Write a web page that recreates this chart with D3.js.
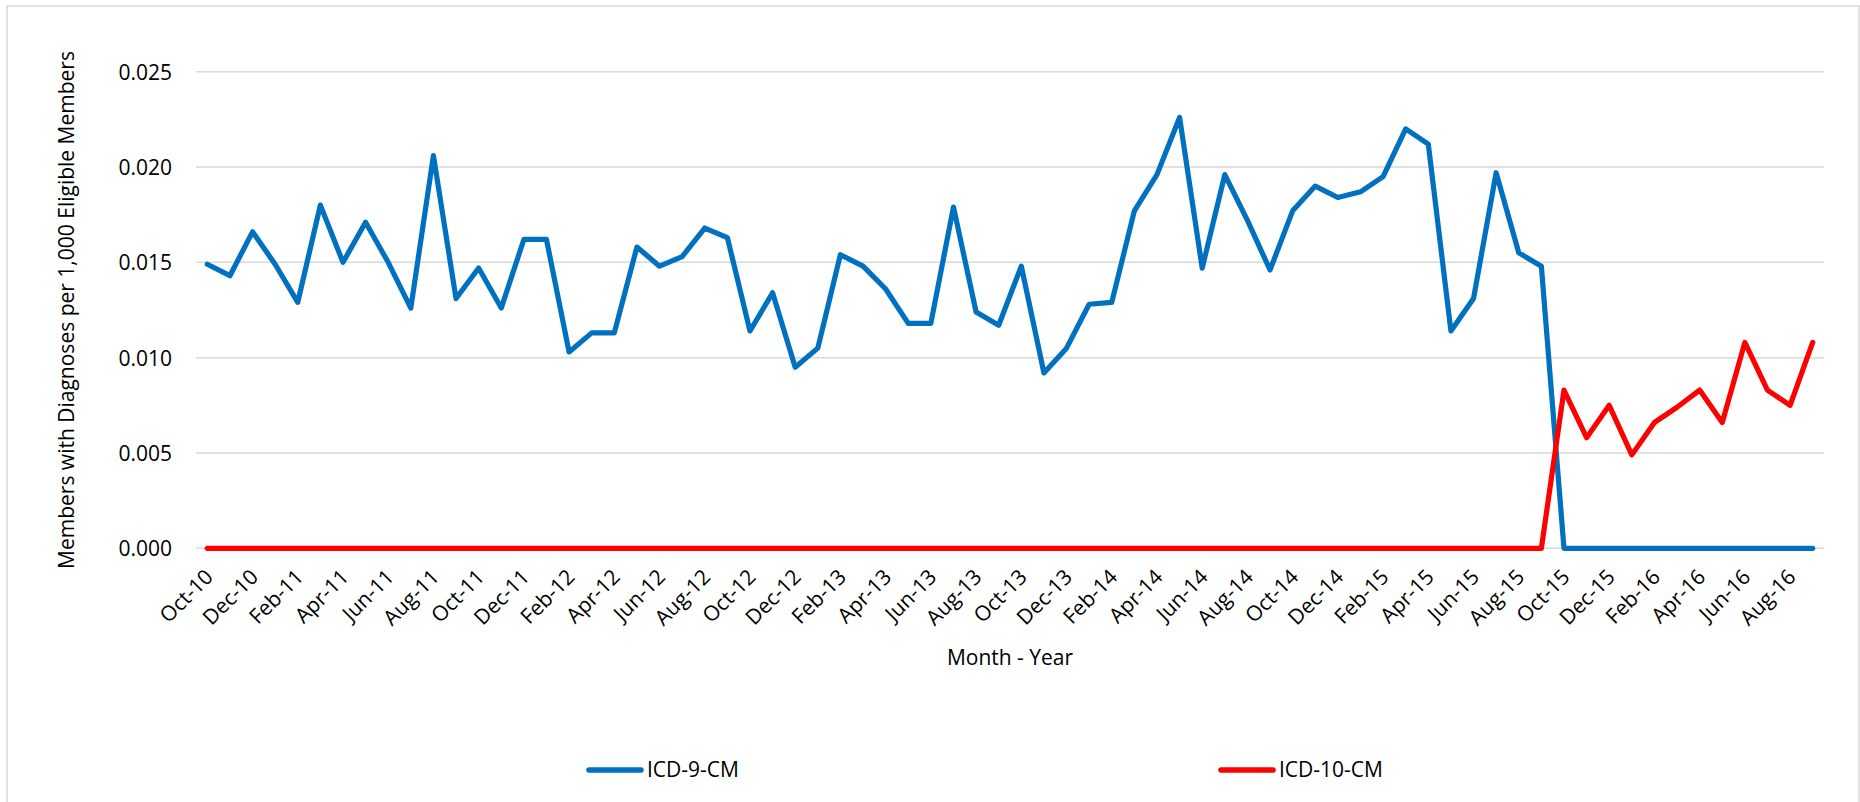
<!DOCTYPE html>
<html>
<head>
<meta charset="utf-8">
<script src="https://cdn.jsdelivr.net/npm/d3@7"></script>
<style>
  body { margin: 0; background: #fff; }
  svg text { font-family: "Open Sans", "Noto Sans", sans-serif; fill: #000; }
</style>
</head>
<body>
<svg id="chart" width="1860" height="802"></svg>
<script>
// months on the category axis (Oct-10 .. Sep-16)
const months = [
  "Oct-10","Nov-10","Dec-10","Jan-11","Feb-11","Mar-11","Apr-11","May-11","Jun-11","Jul-11","Aug-11","Sep-11",
  "Oct-11","Nov-11","Dec-11","Jan-12","Feb-12","Mar-12","Apr-12","May-12","Jun-12","Jul-12","Aug-12","Sep-12",
  "Oct-12","Nov-12","Dec-12","Jan-13","Feb-13","Mar-13","Apr-13","May-13","Jun-13","Jul-13","Aug-13","Sep-13",
  "Oct-13","Nov-13","Dec-13","Jan-14","Feb-14","Mar-14","Apr-14","May-14","Jun-14","Jul-14","Aug-14","Sep-14",
  "Oct-14","Nov-14","Dec-14","Jan-15","Feb-15","Mar-15","Apr-15","May-15","Jun-15","Jul-15","Aug-15","Sep-15",
  "Oct-15","Nov-15","Dec-15","Jan-16","Feb-16","Mar-16","Apr-16","May-16","Jun-16","Jul-16","Aug-16","Sep-16"
];

// only every second month gets a label
const tickLabels = [
  "Oct-10","Dec-10","Feb-11","Apr-11","Jun-11","Aug-11","Oct-11","Dec-11","Feb-12","Apr-12","Jun-12","Aug-12",
  "Oct-12","Dec-12","Feb-13","Apr-13","Jun-13","Aug-13","Oct-13","Dec-13","Feb-14","Apr-14","Jun-14","Aug-14",
  "Oct-14","Dec-14","Feb-15","Apr-15","Jun-15","Aug-15","Oct-15","Dec-15","Feb-16","Apr-16","Jun-16","Aug-16"
];

const yTicks = [0, 0.005, 0.010, 0.015, 0.020, 0.025];

const icd9 = [
  0.0149, 0.0143, 0.0166, 0.0149, 0.0129, 0.0180, 0.0150, 0.0171, 0.0150, 0.0126, 0.0206, 0.0131,
  0.0147, 0.0126, 0.0162, 0.0162, 0.0103, 0.0113, 0.0113, 0.0158, 0.0148, 0.0153, 0.0168, 0.0163,
  0.0114, 0.0134, 0.0095, 0.0105, 0.0154, 0.0148, 0.0136, 0.0118, 0.0118, 0.0179, 0.0124, 0.0117,
  0.0148, 0.0092, 0.0105, 0.0128, 0.0129, 0.0177, 0.0196, 0.0226, 0.0147, 0.0196, 0.0172, 0.0146,
  0.0177, 0.0190, 0.0184, 0.0187, 0.0195, 0.0220, 0.0212, 0.0114, 0.0131, 0.0197, 0.0155, 0.0148,
  0, 0, 0, 0, 0, 0, 0, 0, 0, 0, 0, 0
];

const icd10 = [
  0, 0, 0, 0, 0, 0, 0, 0, 0, 0, 0, 0,
  0, 0, 0, 0, 0, 0, 0, 0, 0, 0, 0, 0,
  0, 0, 0, 0, 0, 0, 0, 0, 0, 0, 0, 0,
  0, 0, 0, 0, 0, 0, 0, 0, 0, 0, 0, 0,
  0, 0, 0, 0, 0, 0, 0, 0, 0, 0, 0, 0,
  0.0083, 0.0058, 0.0075, 0.0049, 0.0066, 0.0074, 0.0083, 0.0066, 0.0108, 0.0083, 0.0075, 0.0108
];

const series = [
  { name: "ICD-9-CM", values: icd9, color: "#0070C0" },
  { name: "ICD-10-CM", values: icd10, color: "#FF0000" }
];

const svg = d3.select("#chart");
const plotLeft = 196, plotRight = 1824, plotTop = 71.7, plotBottom = 548.3;

// outer chart border
svg.append("rect")
  .attr("x", 7).attr("y", 6)
  .attr("width", 1852).attr("height", 810)
  .attr("fill", "none").attr("stroke", "#d9d9d9").attr("stroke-width", 1.5);

const x = d3.scaleBand().domain(months).range([plotLeft, plotRight]);
const y = d3.scaleLinear().domain([0, 0.025]).range([plotBottom, plotTop]);
const cx = d => x(d) + x.bandwidth() / 2;

// gridlines
svg.append("g").selectAll("line").data(yTicks).enter().append("line")
  .attr("x1", plotLeft).attr("x2", plotRight)
  .attr("y1", d => y(d)).attr("y2", d => y(d))
  .attr("stroke", "#d9d9d9").attr("stroke-width", 1.5);

// y axis
const yAxis = svg.append("g")
  .attr("transform", `translate(${plotLeft - 24},0)`)
  .call(d3.axisLeft(y).tickValues(yTicks).tickFormat(d3.format(".3f")).tickSize(0).tickPadding(0));
yAxis.select(".domain").remove();
yAxis.selectAll("text").style("font-size", "21px").attr("dy", "0.35em");

// x axis with rotated labels
const xAxis = svg.append("g")
  .attr("transform", `translate(0,${plotBottom})`)
  .call(d3.axisBottom(x).tickValues(tickLabels).tickSize(0));
xAxis.select(".domain").remove();
xAxis.selectAll("text")
  .style("font-size", "21px")
  .attr("text-anchor", "end")
  .attr("y", 0).attr("dy", 0)
  .attr("transform", "translate(7,30) rotate(-45)");

// axis titles
svg.append("text")
  .attr("transform", `translate(74,${(plotTop + plotBottom) / 2}) rotate(-90)`)
  .attr("text-anchor", "middle")
  .style("font-size", "21px")
  .text("Members with Diagnoses per 1,000 Eligible Members");

svg.append("text")
  .attr("x", 1010).attr("y", 658).attr("dy", "0.35em")
  .attr("text-anchor", "middle")
  .style("font-size", "21px")
  .text("Month - Year");

// lines
const line = d3.line()
  .x((d, i) => cx(months[i]))
  .y(d => y(d));

svg.append("g").selectAll("path").data(series).enter().append("path")
  .attr("d", d => line(d.values))
  .attr("fill", "none")
  .attr("stroke", d => d.color)
  .attr("stroke-width", 5.2)
  .attr("stroke-linejoin", "round")
  .attr("stroke-linecap", "round");

// legend
const legendX = [589, 1221];
const legend = svg.append("g").selectAll("g").data(series).enter().append("g")
  .attr("transform", (d, i) => `translate(${legendX[i]},770)`);
legend.append("line")
  .attr("x1", 0).attr("x2", 52)
  .attr("stroke", d => d.color).attr("stroke-width", 5.5).attr("stroke-linecap", "round");
legend.append("text")
  .attr("x", 58).attr("dy", "0.35em")
  .style("font-size", "21px")
  .text(d => d.name);
</script>
</body>
</html>
